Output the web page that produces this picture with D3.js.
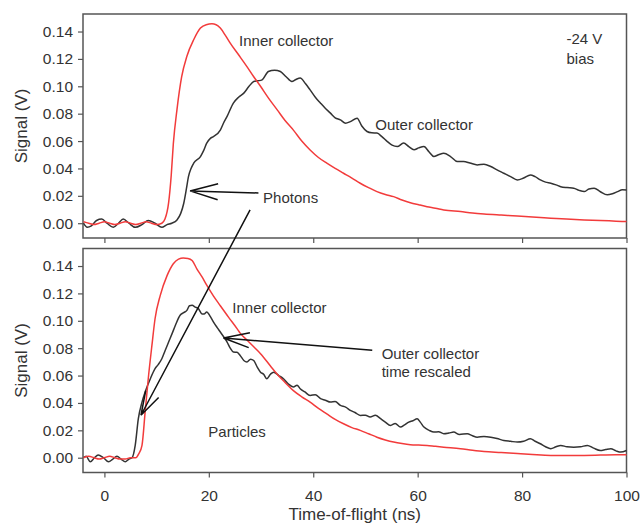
<!DOCTYPE html>
<html lang="en">
<head>
  <meta charset="UTF-8">
  <title>time of flight</title>
  <script src="https://cdn.jsdelivr.net/npm/d3@7"></script>
  <style>
    body { margin: 0; background: #fff; }
    text { font-family: "Liberation Sans", Arial, sans-serif; fill: #333; }
  </style>
</head>
<body>
  <svg id="chart"></svg>
<script>
  // tick values
  const xTicks = [0, 20, 40, 60, 80, 100];
  const yTicks = [0, 0.02, 0.04, 0.06, 0.08, 0.10, 0.12, 0.14];

  // top panel (-24 V bias): [time ns, signal V]
  const topInner = [[-4,0.001],[-3,0],[-2,-0.001],[-1,0],[0,0.001],[1,0],[2,-0.001],[3,0],[4,0.001],[5,0],[6,-0.001],[7,0],[8,0.001],[9,0],[10,-0.001],[11,0],[11.6,0.003],[12.3,0.015],[12.8,0.035],[13.2,0.058],[13.9,0.083],[14.8,0.107],[15.8,0.122],[17.1,0.134],[18.4,0.1425],[19.5,0.145],[20.6,0.1456],[21.4,0.145],[22.2,0.1425],[23.2,0.137],[24.1,0.1315],[25.7,0.123],[27.3,0.1144],[28.6,0.107],[29.9,0.100],[31.5,0.091],[33.1,0.0828],[34.6,0.075],[36.2,0.068],[37.8,0.060],[39.4,0.0535],[41,0.048],[42.6,0.0438],[44.2,0.040],[45.8,0.0365],[47.4,0.033],[49,0.0292],[50.6,0.026],[52.2,0.0231],[53.8,0.021],[55.4,0.0194],[57,0.017],[58.6,0.015],[60.2,0.0135],[61.8,0.0121],[63.4,0.011],[65,0.0097],[68.2,0.0085],[70.5,0.0075],[72.7,0.0068],[76,0.006],[79.1,0.0053],[82,0.0045],[85.5,0.0037],[88.5,0.003],[91.9,0.0024],[95,0.002],[98,0.0015],[100,0.0012]];

  const topOuter = [[-4,0],[-3.3,-0.003],[-2.5,-0.002],[-1.5,0.002],[-0.5,0.003],[0.5,0],[1.7,-0.003],[2.7,0],[3.6,0.003],[4.7,0],[5.9,-0.003],[7.2,-0.001],[8.4,0.002],[9.7,0],[11,-0.003],[12,-0.001],[12.9,0],[13.9,0.0024],[14.6,0.007],[15.2,0.0146],[15.7,0.025],[16.1,0.034],[16.6,0.040],[17.1,0.0438],[18.4,0.0487],[19,0.053],[19.6,0.0585],[20.3,0.062],[20.9,0.0633],[22.2,0.068],[22.8,0.073],[23.5,0.078],[24.7,0.0877],[25.7,0.092],[26.7,0.095],[27.7,0.1],[28.6,0.1035],[29.4,0.104],[30.2,0.1047],[31.4,0.1108],[32.6,0.1118],[33.7,0.1108],[34.8,0.107],[35.9,0.1035],[36.7,0.105],[37.5,0.106],[38.5,0.102],[39.4,0.0974],[40.4,0.092],[41.4,0.0877],[42.3,0.084],[43.3,0.0804],[44.2,0.077],[45.2,0.0755],[46.2,0.073],[47.1,0.0742],[48.4,0.0767],[49.3,0.071],[50.3,0.067],[51.2,0.066],[52.2,0.0658],[53.2,0.063],[54.2,0.0596],[55.1,0.057],[56.1,0.056],[57.3,0.0585],[58.3,0.056],[59.3,0.0536],[60.2,0.055],[61.2,0.056],[62.2,0.052],[63.1,0.0487],[64,0.05],[65,0.0511],[66.3,0.0487],[67.6,0.045],[68.8,0.045],[70,0.044],[71.4,0.0426],[72.7,0.043],[74,0.0414],[75.2,0.039],[76.5,0.0365],[77.8,0.034],[79.1,0.0316],[80.3,0.033],[81.6,0.0353],[82.5,0.034],[83.5,0.0316],[84.5,0.03],[85.5,0.0292],[86.5,0.028],[87.4,0.0267],[88.6,0.026],[89.9,0.0256],[90.9,0.024],[91.9,0.0231],[92.8,0.025],[93.8,0.0256],[95,0.023],[96.3,0.0207],[97.3,0.0215],[98.3,0.0231],[99.2,0.0245],[100,0.0243]];

  // bottom panel (outer collector time rescaled)
  const botInner = [[-4,0],[-3,0.001],[-2,0],[-1,-0.001],[0,0],[1,0.001],[2,0],[3,-0.001],[4,-0.001],[5,0],[6,0],[6.6,0.003],[7.2,0.009],[7.8,0.0333],[8.4,0.0577],[9.1,0.082],[9.7,0.1015],[10.7,0.1186],[12,0.133],[13.2,0.1417],[14.2,0.145],[15.1,0.1458],[16,0.1455],[16.8,0.144],[17.7,0.138],[18.7,0.132],[19.6,0.126],[20.9,0.118],[22.2,0.111],[23.8,0.1025],[25.4,0.0943],[26,0.091],[27.3,0.086],[28.6,0.081],[29.9,0.076],[31.8,0.067],[33.1,0.061],[34.6,0.055],[36.2,0.049],[37.8,0.0445],[39.4,0.0406],[41,0.036],[42.6,0.032],[44.2,0.028],[45.8,0.0248],[47.4,0.022],[49,0.020],[50.6,0.0175],[52.2,0.015],[53.8,0.013],[55.4,0.0114],[57,0.0103],[58.6,0.0095],[60.2,0.0092],[61.8,0.009],[63.4,0.0083],[65,0.0077],[68.2,0.0066],[70.5,0.0055],[72.7,0.0046],[76,0.0038],[79.1,0.003],[82,0.0023],[85.5,0.0017],[88.5,0.0017],[91.9,0.0017],[95,0.0019],[98,0.0021],[100,0.0022]];

  const botOuter = [[-4,0],[-3.5,0.001],[-2.7,-0.003],[-1.9,0],[-1.2,0.002],[-0.2,0],[0.8,-0.003],[1.6,-0.001],[2.4,0.001],[3.2,-0.001],[4,-0.003],[4.7,-0.001],[5.3,0],[5.9,0.009],[6.5,0.0285],[7.2,0.0406],[7.8,0.048],[8.8,0.0577],[9.7,0.065],[10.3,0.068],[11,0.0723],[11.6,0.078],[12.3,0.0845],[13,0.091],[13.6,0.0967],[14.5,0.104],[15.2,0.106],[15.8,0.1076],[16.3,0.111],[16.8,0.1113],[17.4,0.110],[18,0.1089],[18.7,0.105],[19.1,0.105],[19.6,0.1064],[20.3,0.103],[20.9,0.099],[21.6,0.095],[22.2,0.0918],[22.9,0.088],[23.5,0.0845],[24.1,0.08],[24.7,0.0772],[25.4,0.077],[26,0.0747],[26.7,0.071],[27.3,0.0699],[28,0.072],[28.6,0.071],[29.3,0.066],[29.9,0.0625],[30.5,0.061],[31.1,0.0577],[31.8,0.061],[32.4,0.0625],[33.4,0.06],[34.3,0.0577],[35.2,0.054],[36.2,0.0516],[36.9,0.053],[37.5,0.0504],[38.4,0.048],[39.4,0.0455],[40.4,0.046],[41.4,0.0431],[42.3,0.042],[43.3,0.0406],[44.2,0.041],[45.2,0.0382],[46.2,0.037],[47.1,0.0346],[48,0.033],[49,0.0309],[50,0.031],[50.9,0.0297],[51.9,0.031],[52.9,0.0285],[53.8,0.026],[54.8,0.0236],[55.7,0.025],[56.7,0.0224],[57.5,0.024],[58.3,0.026],[59.1,0.027],[59.9,0.0285],[60.5,0.026],[61.2,0.0224],[62.2,0.02],[63.1,0.0187],[64,0.019],[65,0.0175],[66,0.018],[66.9,0.0187],[68,0.017],[69.5,0.0175],[70.5,0.016],[71.4,0.015],[72.7,0.0155],[74,0.015],[75.2,0.014],[76.5,0.0126],[77.8,0.012],[79.1,0.0114],[80.3,0.012],[81.6,0.0139],[82.5,0.012],[83.5,0.0102],[84.5,0.008],[85.5,0.0066],[86.5,0.008],[87.4,0.009],[88.6,0.008],[89.9,0.0077],[91.2,0.008],[92.5,0.009],[93.7,0.007],[95,0.0053],[96,0.006],[97,0.0066],[98,0.005],[98.9,0.0041],[100,0.0053]];

  const width = 640, height = 525;
  const left = 83, right = 626.5;
  const panels = [
    { top: 14, bottom: 238, inner: topInner, outer: topOuter, labels: false },
    { top: 248.5, bottom: 472.5, inner: botInner, outer: botOuter, labels: true },
  ];

  const svg = d3.select('#chart').attr('width', width).attr('height', height);

  const x = d3.scaleLinear().domain([-4.1, 100]).range([left, right]);

  const RED = '#f23b3b', DARK = '#333', FRAME = '#555';

  panels.forEach(p => {
    p.y = d3.scaleLinear().domain([-0.0108, 0.1528]).range([p.bottom, p.top]);
    const g = svg.append('g');

    // y axis
    const ya = g.append('g')
      .attr('transform', `translate(${left},0)`)
      .call(d3.axisLeft(p.y).tickValues(yTicks).tickFormat(d3.format('.2f')).tickSize(5).tickPadding(5));
    ya.select('.domain').remove();
    ya.selectAll('line').attr('stroke', FRAME).attr('stroke-width', 1.2);
    ya.selectAll('text').attr('font-size', 15.5).style('fill', DARK);

    // x axis
    const xa = g.append('g')
      .attr('transform', `translate(0,${p.bottom})`)
      .call(d3.axisBottom(x).tickValues(xTicks).tickSize(5).tickPadding(12)
        .tickFormat(p.labels ? d3.format('d') : ''));
    xa.select('.domain').remove();
    xa.selectAll('line').attr('stroke', FRAME).attr('stroke-width', 1.2);
    xa.selectAll('text').attr('font-size', 15.5).style('fill', DARK);

    g.append('rect')
      .attr('x', left).attr('y', p.top)
      .attr('width', right - left).attr('height', p.bottom - p.top)
      .attr('fill', 'none').attr('stroke', FRAME).attr('stroke-width', 1.5);

    const line = d3.line()
      .x(d => x(d[0]))
      .y(d => p.y(d[1]))
      .curve(d3.curveMonotoneX);

    g.append('path').datum(p.outer)
      .attr('d', line).attr('fill', 'none')
      .attr('stroke', DARK).attr('stroke-width', 1.5);
    g.append('path').datum(p.inner)
      .attr('d', line).attr('fill', 'none')
      .attr('stroke', RED).attr('stroke-width', 1.5);

    g.append('text')
      .attr('transform', `translate(21,${(p.top + p.bottom) / 2}) rotate(-90)`)
      .attr('text-anchor', 'middle').attr('dy', '0.35em')
      .attr('font-size', 17)
      .text('Signal (V)');
  });

  svg.append('text')
    .attr('x', (left + right) / 2).attr('y', 514).attr('dy', '0.35em')
    .attr('text-anchor', 'middle').attr('font-size', 17)
    .text('Time-of-flight (ns)');

  const [pt, pb] = panels;

  // annotations
  const notes = [
    [pt, 25.8, 0.1332, 'Inner collector'],
    [pt, 88.5, 0.1347, '-24 V'],
    [pt, 88.5, 0.1200, 'bias'],
    [pt, 51.9, 0.0718, 'Outer collector'],
    [pt, 30.4, 0.0185, 'Photons'],
    [pb, 24.5, 0.1093, 'Inner collector'],
    [pb, 53.1, 0.0762, 'Outer collector'],
    [pb, 53.1, 0.0630, 'time rescaled'],
    [pb, 19.9, 0.0192, 'Particles'],
  ];
  svg.append('g').selectAll('text').data(notes).join('text')
    .attr('x', d => x(d[1])).attr('y', d => d[0].y(d[2]))
    .attr('dy', '0.35em').attr('font-size', 15)
    .text(d => d[3]);

  function arrow(x1, y1, x2, y2, len, ang) {
    const a = Math.atan2(y1 - y2, x1 - x2);
    const path = d3.path();
    path.moveTo(x1, y1);
    path.lineTo(x2, y2);
    [-ang, ang].forEach(s => {
      path.moveTo(x2 + len * Math.cos(a + s), y2 + len * Math.sin(a + s));
      path.lineTo(x2, y2);
    });
    svg.append('path').attr('d', path.toString())
      .attr('fill', 'none').attr('stroke', '#111').attr('stroke-width', 1.5);
  }

  const deg = Math.PI / 180;
  arrow(x(29.5), pt.y(0.0221), x(16.4), pt.y(0.0236), 29, 16 * deg);
  arrow(x(27.9), pt.y(0.0097), x(7.0), pb.y(0.031), 25, 17 * deg);
  arrow(x(51.3), pb.y(0.0784), x(22.8), pb.y(0.0874), 27, 16 * deg);
</script>
</body>
</html>
